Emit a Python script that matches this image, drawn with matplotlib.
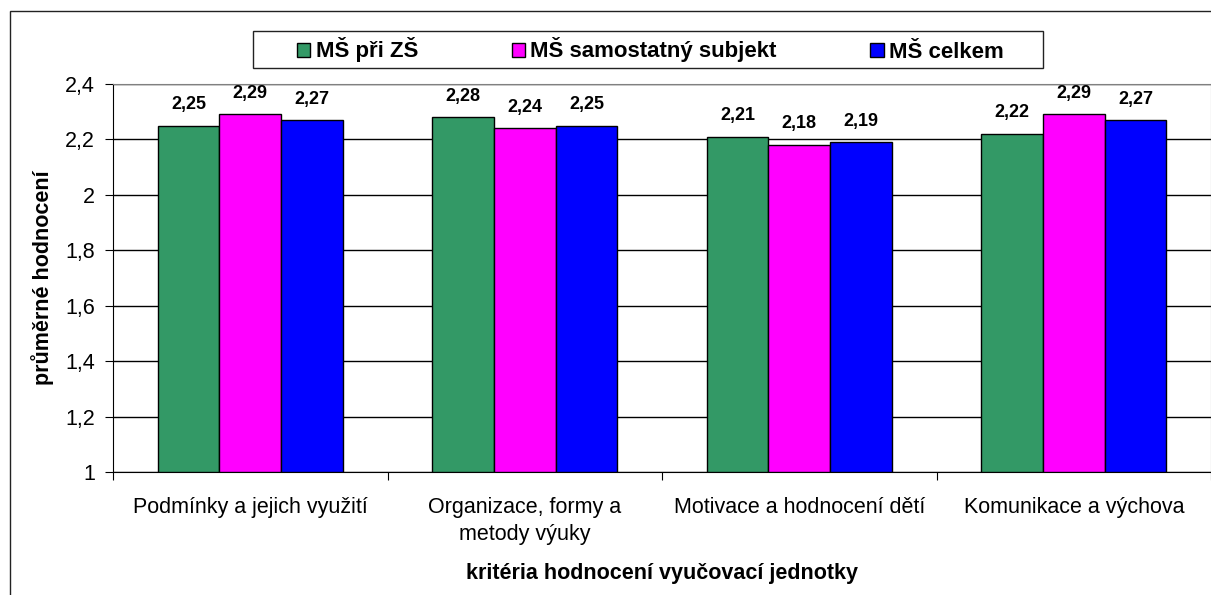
import numpy as np
import matplotlib.pyplot as plt
from matplotlib.patches import Rectangle

categories = ["Podmínky a jejich využití", "Organizace, formy a\nmetody výuky",
              "Motivace a hodnocení dětí", "Komunikace a výchova"]
series = ["MŠ při ZŠ", "MŠ samostatný subjekt", "MŠ celkem"]
pri_zs = [2.25, 2.28, 2.21, 2.22]
samostatny = [2.29, 2.24, 2.18, 2.29]
celkem = [2.27, 2.25, 2.19, 2.27]
colors = ["#339966", "#FF00FF", "#0000FF"]

plt.rcParams['font.family'] = ['Liberation Sans', 'DejaVu Sans']

W, H = 1211, 595
fig = plt.figure(figsize=(W / 100, H / 100), dpi=100)
ax = fig.add_axes([113 / W, 1 - 472 / H, (1211 - 113) / W, (472 - 84) / H])

# outer chart border
fig.patches.append(Rectangle((10 / W, -0.05), 1.2, 1 - 11 / H + 0.05, transform=fig.transFigure,
                             fill=False, edgecolor="#222222", linewidth=1.0))
# legend frame
fig.patches.append(Rectangle((253 / W, 1 - 68 / H), (1043 - 253) / W, 37 / H,
                             transform=fig.transFigure, fill=False, edgecolor="#222222",
                             linewidth=1.0, zorder=5))

x = np.arange(len(categories))
bw = 0.225
for i, (vals, col) in enumerate(zip([pri_zs, samostatny, celkem], colors)):
    pos = x + (i - 1) * bw
    ax.bar(pos, np.array(vals) - 1, bottom=1, width=bw, color=col, edgecolor="black",
           linewidth=1.0, label=series[i], zorder=3)
    for p, v in zip(pos, vals):
        ax.annotate(f"{v:.2f}".replace(".", ","), (p, v), xytext=(0, 9), textcoords="offset points",
                    ha="center", va="bottom", fontsize=13, fontweight="bold")

ax.set_xlim(-0.5, len(categories) - 0.5)
ax.set_ylim(1, 2.4)
yt = np.arange(1, 2.41, 0.2)
ax.set_yticks(yt)
ax.set_yticklabels([f"{t:.1f}".replace(".", ",").replace(",0", "") for t in yt], fontsize=15.5)
ax.yaxis.grid(True, color="black", linewidth=1.0, zorder=0)
ax.set_axisbelow(True)

ax.set_xticks(np.arange(-0.5, len(categories)), minor=False)
ax.set_xticklabels([])
ax.set_xticks(x, minor=True)
ax.set_xticklabels(categories, minor=True, fontsize=15.5, linespacing=1.35)
ax.tick_params(axis="x", which="minor", length=0, pad=18)
ax.tick_params(axis="x", which="major", length=6, direction="out")
ax.tick_params(axis="y", length=6, direction="out", pad=7)

for s in ["top", "right"]:
    ax.spines[s].set_color("#808080")
ax.spines["left"].set_color("black")
ax.spines["bottom"].set_color("black")

ax.set_ylabel("průměrné hodnocení", fontsize=15.5, fontweight="bold", labelpad=8)
ax.set_xlabel("kritéria hodnocení vyučovací jednotky", fontsize=15.5, fontweight="bold", labelpad=13)

leg = fig.legend(loc="center left", bbox_to_anchor=(297 / W, 1 - 50 / H), ncol=3, frameon=False,
                 prop={"size": 16, "weight": "bold"}, borderpad=0, borderaxespad=0,
                 handlelength=0.6, handleheight=0.6, columnspacing=4.2, handletextpad=0.25)

fig.savefig("out.png", dpi=100)
